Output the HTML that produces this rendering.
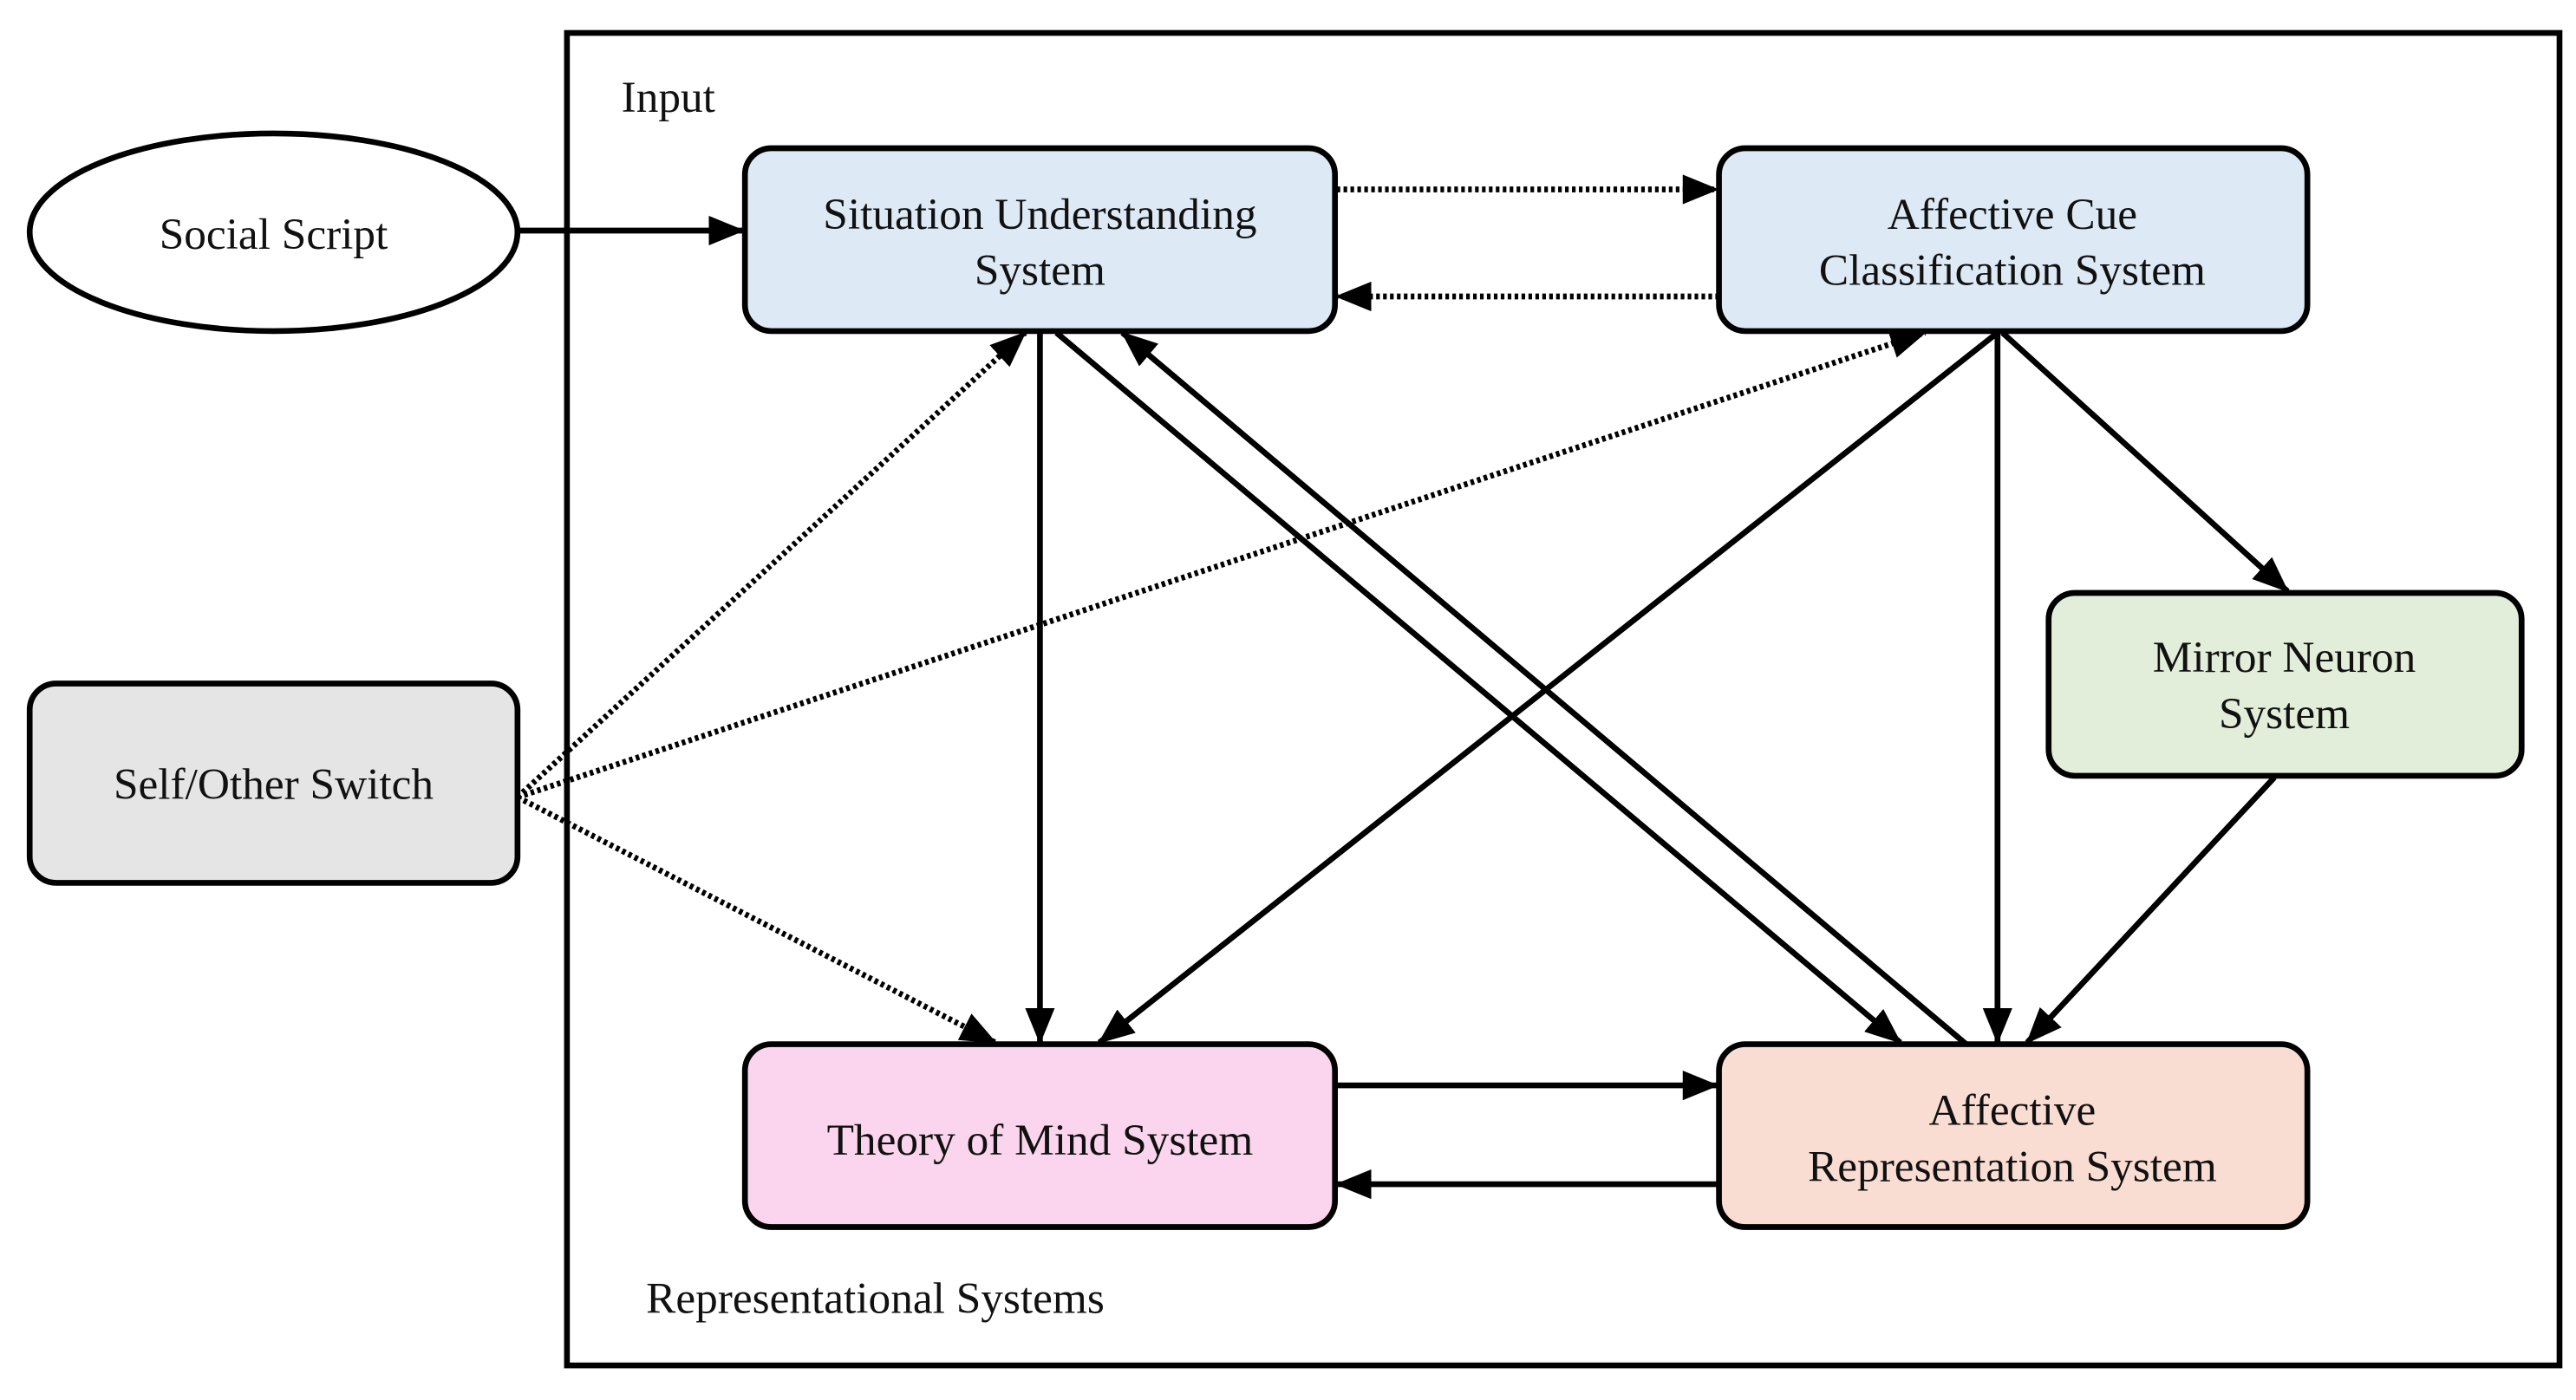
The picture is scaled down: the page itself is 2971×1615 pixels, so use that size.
<!DOCTYPE html>
<html><head><meta charset="utf-8"><style>
html,body{margin:0;padding:0;background:#fff;}
svg{display:block;}
text{font-family:"Liberation Serif",serif;font-size:27px;fill:#111;}
</style></head><body>
<svg width="2971" height="1615" viewBox="0 0 1563 850" preserveAspectRatio="none" xmlns="http://www.w3.org/2000/svg">
<defs>
<marker id="a" markerUnits="userSpaceOnUse" markerWidth="24" markerHeight="18" refX="21" refY="9" orient="auto">
<path d="M0,0 L22,9 L0,18 Z" fill="#000"/>
</marker>
</defs>
<rect x="344" y="20" width="1209" height="809" fill="none" stroke="#000" stroke-width="3.5"/>
<text x="377" y="68">Input</text>
<text x="392" y="797">Representational Systems</text>

<g stroke="#000" stroke-width="3.5" fill="none">
<line x1="314" y1="140" x2="451" y2="140" marker-end="url(#a)"/>
<line x1="631" y1="202" x2="631" y2="633" marker-end="url(#a)"/>
<line x1="641" y1="202" x2="1153" y2="633" marker-end="url(#a)"/>
<line x1="1193" y1="634" x2="681" y2="202" marker-end="url(#a)"/>
<line x1="1212" y1="202" x2="667" y2="633" marker-end="url(#a)"/>
<line x1="1212" y1="202" x2="1212" y2="633" marker-end="url(#a)"/>
<line x1="1215" y1="202" x2="1388" y2="359" marker-end="url(#a)"/>
<line x1="1380" y1="472" x2="1230" y2="633" marker-end="url(#a)"/>
<line x1="811" y1="659" x2="1042" y2="659" marker-end="url(#a)"/>
<line x1="1043" y1="719" x2="811" y2="719" marker-end="url(#a)"/>
</g>
<g stroke="#000" stroke-width="3.5" fill="none" stroke-dasharray="2.2,2">
<line x1="811" y1="115" x2="1042" y2="115" marker-end="url(#a)"/>
<line x1="1043" y1="180" x2="811" y2="180" marker-end="url(#a)"/>
<line x1="314" y1="484" x2="622" y2="202" marker-end="url(#a)"/>
<line x1="314" y1="484" x2="1168" y2="202" marker-end="url(#a)"/>
<line x1="314" y1="484" x2="604" y2="633" marker-end="url(#a)"/>
</g>

<g stroke="#000" stroke-width="3.5">
<ellipse cx="166" cy="141" rx="148" ry="60" fill="#fff"/>
<rect x="452" y="90" width="358" height="111" rx="16" fill="#dde9f5"/>
<rect x="1043" y="90" width="357" height="111" rx="16" fill="#dde9f5"/>
<rect x="1243" y="360" width="287" height="111" rx="16" fill="#e2eed9"/>
<rect x="18" y="415" width="296" height="121" rx="16" fill="#e5e5e5"/>
<rect x="452" y="634" width="358" height="111" rx="16" fill="#fbd5ee"/>
<rect x="1043" y="634" width="357" height="111" rx="16" fill="#f9ddd3"/>
</g>

<g text-anchor="middle">
<text x="166" y="151">Social Script</text>
<text x="631" y="139">Situation Understanding</text>
<text x="631" y="173">System</text>
<text x="1221" y="139">Affective Cue</text>
<text x="1221" y="173">Classification System</text>
<text x="1386" y="408">Mirror Neuron</text>
<text x="1386" y="442">System</text>
<text x="166" y="485">Self/Other Switch</text>
<text x="631" y="701">Theory of Mind System</text>
<text x="1221" y="683">Affective</text>
<text x="1221" y="717">Representation System</text>
</g>
</svg>
</body></html>
